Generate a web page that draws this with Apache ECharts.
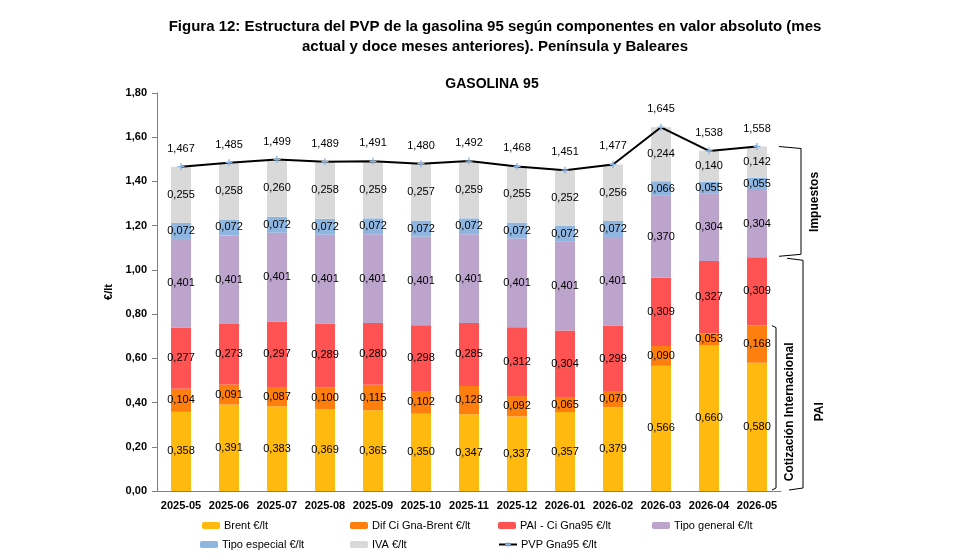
<!DOCTYPE html>
<html>
<head>
<meta charset="utf-8">
<script src="https://cdn.jsdelivr.net/npm/echarts@6/dist/echarts.min.js"></script>
<style>
  html, body { margin: 0; padding: 0; background: #fff; }
  #main { width: 980px; height: 560px; }
</style>
</head>
<body>
<div id="main"></div>
<script>
var meses = ['2025-05', '2025-06', '2025-07', '2025-08', '2025-09', '2025-10', '2025-11', '2025-12', '2026-01', '2026-02', '2026-03', '2026-04', '2026-05'];
var brent = [0.358, 0.391, 0.383, 0.369, 0.365, 0.350, 0.347, 0.337, 0.357, 0.379, 0.566, 0.660, 0.580];
var difCi = [0.104, 0.091, 0.087, 0.100, 0.115, 0.102, 0.128, 0.092, 0.065, 0.070, 0.090, 0.053, 0.168];
var paiCi = [0.277, 0.273, 0.297, 0.289, 0.280, 0.298, 0.285, 0.312, 0.304, 0.299, 0.309, 0.327, 0.309];
var tipoGeneral = [0.401, 0.401, 0.401, 0.401, 0.401, 0.401, 0.401, 0.401, 0.401, 0.401, 0.370, 0.304, 0.304];
var tipoEspecial = [0.072, 0.072, 0.072, 0.072, 0.072, 0.072, 0.072, 0.072, 0.072, 0.072, 0.066, 0.055, 0.055];
var iva = [0.255, 0.258, 0.260, 0.258, 0.259, 0.257, 0.259, 0.255, 0.252, 0.256, 0.244, 0.140, 0.142];
var pvp = [1.467, 1.485, 1.499, 1.489, 1.491, 1.480, 1.492, 1.468, 1.451, 1.477, 1.645, 1.538, 1.558];

var font = 'Liberation Sans, Arial, sans-serif';

function coma(v, d) {
    return v.toFixed(d).replace('.', ',');
}

function barra(nombre, datos, color) {
    return {
        name: nombre,
        type: 'bar',
        stack: 'pvp',
        barWidth: 20,
        data: datos,
        itemStyle: { color: color },
        label: {
            show: true,
            position: 'inside',
            color: '#000',
            fontFamily: font,
            fontSize: 11,
            formatter: function (p) { return coma(p.value, 3); }
        }
    };
}

var myChart = echarts.init(document.getElementById('main'));

var leyendas = [
    ['Brent €/lt', 197, 515],
    ['Dif Ci Gna-Brent €/lt', 345, 515],
    ['PAI - Ci Gna95 €/lt', 493, 515],
    ['Tipo general €/lt', 647, 515],
    ['Tipo especial €/lt', 195, 534],
    ['IVA €/lt', 345, 534],
    ['PVP Gna95 €/lt', 493, 534]
].map(function (l) {
    return {
        data: [l[0]],
        left: l[1],
        top: l[2],
        itemWidth: 18,
        itemHeight: 7,
        itemGap: 4,
        selectedMode: false,
        textStyle: { fontFamily: font, fontSize: 11, color: '#000', padding: [0, 0, 0, -1] }
    };
});

var option = {
    animation: false,
    title: [
        {
            text: 'Figura 12: Estructura del PVP de la gasolina 95 según componentes en valor absoluto (mes\nactual y doce meses anteriores). Península y Baleares',
            left: 490,
            top: 12,
            textAlign: 'center',
            textStyle: { fontFamily: font, fontSize: 15, fontWeight: 'bold', lineHeight: 20, color: '#000' }
        },
        {
            text: 'GASOLINA 95',
            left: 487,
            top: 72,
            textAlign: 'center',
            textStyle: { fontFamily: font, fontSize: 14, fontWeight: 'bold', color: '#000' }
        }
    ],
    legend: leyendas,
    grid: { left: 157, right: 199, top: 93, bottom: 69 },
    xAxis: {
        type: 'category',
        data: meses,
        axisLine: { lineStyle: { color: '#808080' } },
        axisTick: { length: 5, lineStyle: { color: '#808080' } },
        axisLabel: { interval: 0, color: '#000', fontFamily: font, fontSize: 11, fontWeight: 'bold', margin: 9 }
    },
    yAxis: {
        type: 'value',
        min: 0,
        max: 1.8,
        interval: 0.2,
        name: '€/lt',
        nameLocation: 'middle',
        nameGap: 42,
        nameTextStyle: { fontFamily: font, fontSize: 11, fontWeight: 'bold', color: '#000' },
        splitLine: { show: false },
        axisLine: { show: true, lineStyle: { color: '#808080' } },
        axisTick: { show: true, length: 5, lineStyle: { color: '#808080' } },
        axisLabel: {
            color: '#000', fontFamily: font, fontSize: 11, fontWeight: 'bold', margin: 10,
            formatter: function (v) { return coma(v, 2); }
        }
    },
    series: [
        barra('Brent €/lt', brent, '#FFB90F'),
        barra('Dif Ci Gna-Brent €/lt', difCi, '#FF7F0E'),
        barra('PAI - Ci Gna95 €/lt', paiCi, '#FF5252'),
        barra('Tipo general €/lt', tipoGeneral, '#BCA4CC'),
        barra('Tipo especial €/lt', tipoEspecial, '#8FB6E0'),
        barra('IVA €/lt', iva, '#D9D9D9'),
        {
            name: 'PVP Gna95 €/lt',
            type: 'line',
            data: pvp,
            z: 5,
            symbol: 'path://M4,0H6V4H10V6H6V10H4V6H0V4H4Z',
            symbolSize: 7,
            itemStyle: { color: '#8FB6E0' },
            lineStyle: { color: '#000', width: 2 },
            label: {
                show: true,
                position: 'top',
                distance: 9,
                color: '#000',
                fontFamily: font,
                fontSize: 11,
                formatter: function (p) { return coma(p.value, 3); }
            }
        }
    ]
};
myChart.setOption(option);

// llaves de la derecha, a partir de la última barra
var n = meses.length - 1;
var ultimo = meses[n];
var topePai = brent[n] + difCi[n] + paiCi[n];
var topeCi = brent[n] + difCi[n];
function px(v) { return myChart.convertToPixel({ gridIndex: 0 }, [ultimo, v]); }
var cx = px(0)[0];
var y0 = px(0)[1] - 3;
var yPai = px(topePai)[1];
var yCi = px(topeCi)[1];
var yTop = px(pvp[n])[1];
var linea = { stroke: '#000', lineWidth: 1, fill: null };

myChart.setOption({
    graphic: [
        { type: 'polyline', shape: { points: [[cx + 22, yTop], [cx + 44, yTop + 2], [cx + 44, yPai - 3], [cx + 22, yPai - 1]] }, style: linea },
        { type: 'polyline', shape: { points: [[cx + 30, yPai + 1], [cx + 46, yPai + 3], [cx + 46, y0], [cx + 32, y0 + 2]] }, style: linea },
        { type: 'polyline', shape: { points: [[cx + 15, yCi], [cx + 19, yCi + 2], [cx + 19, y0], [cx + 15, y0 + 2]] }, style: linea },
        {
            type: 'text', x: cx + 58, y: (yTop + yPai) / 2, rotation: Math.PI / 2,
            style: { text: 'Impuestos', fill: '#000', font: 'bold 12px ' + font, align: 'center', verticalAlign: 'middle' }
        },
        {
            type: 'text', x: cx + 33, y: (yCi + y0) / 2 + 5, rotation: Math.PI / 2,
            style: { text: 'Cotización Internacional', fill: '#000', font: 'bold 12px ' + font, align: 'center', verticalAlign: 'middle' }
        },
        {
            type: 'text', x: cx + 63, y: (yCi + y0) / 2 + 5, rotation: Math.PI / 2,
            style: { text: 'PAI', fill: '#000', font: 'bold 12px ' + font, align: 'center', verticalAlign: 'middle' }
        }
    ]
});
</script>
</body>
</html>
